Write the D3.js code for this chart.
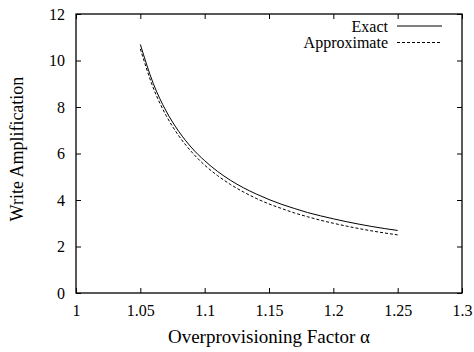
<!DOCTYPE html>
<html>
<head>
<meta charset="utf-8">
<script src="https://cdn.jsdelivr.net/npm/d3@7"></script>
<style>
  body { margin: 0; background: #fff; }
</style>
</head>
<body>
<div id="chart"></div>
<script>
// data
var alpha = [1.05, 1.06, 1.07, 1.08, 1.09, 1.10, 1.11, 1.12, 1.13, 1.14, 1.15,
             1.16, 1.17, 1.18, 1.19, 1.20, 1.21, 1.22, 1.23, 1.24, 1.25];
var exact = [10.69, 9.02, 7.83, 6.94, 6.24, 5.69, 5.23, 4.85, 4.53, 4.26, 4.02,
             3.81, 3.63, 3.46, 3.32, 3.19, 3.07, 2.96, 2.86, 2.77, 2.69];
var approx = [10.50, 8.83, 7.64, 6.75, 6.06, 5.50, 5.05, 4.67, 4.35, 4.07, 3.83,
              3.63, 3.44, 3.28, 3.13, 3.00, 2.88, 2.77, 2.67, 2.58, 2.50];
var xTicks = [1, 1.05, 1.1, 1.15, 1.2, 1.25, 1.3];
var yTicks = [0, 2, 4, 6, 8, 10, 12];

var serif = "'Liberation Serif', 'Times New Roman', serif";

var W = 474, H = 352;
var margin = {top: 14, right: 12, bottom: 59, left: 76};
var width = W - margin.left - margin.right;
var height = H - margin.top - margin.bottom;

var svg = d3.select("#chart").append("svg")
    .attr("width", W)
    .attr("height", H);

var g = svg.append("g")
    .attr("transform", "translate(" + margin.left + "," + margin.top + ")");

var x = d3.scaleLinear().domain([1, 1.3]).range([0, width]);
var y = d3.scaleLinear().domain([0, 12]).range([height, 0]);

//gnuplot style inward ticks on all four sides
var tl = 5;
g.append("g")
    .attr("transform", "translate(0," + height + ")")
    .call(d3.axisBottom(x).tickValues(xTicks).tickSizeInner(-tl).tickSizeOuter(0)
        .tickPadding(12).tickFormat(d3.format("")))
    .call(function(a) { a.select(".domain").remove(); });

g.append("g")
    .call(d3.axisTop(x).tickValues(xTicks).tickSizeInner(-tl).tickSizeOuter(0).tickFormat(""))
    .call(function(a) { a.select(".domain").remove(); });

g.append("g")
    .call(d3.axisLeft(y).tickValues(yTicks).tickSizeInner(-tl).tickSizeOuter(0)
        .tickPadding(11).tickFormat(d3.format("d")))
    .call(function(a) { a.select(".domain").remove(); });

g.append("g")
    .attr("transform", "translate(" + width + ",0)")
    .call(d3.axisRight(y).tickValues(yTicks).tickSizeInner(-tl).tickSizeOuter(0).tickFormat(""))
    .call(function(a) { a.select(".domain").remove(); });

g.selectAll(".tick line").attr("stroke", "#000").attr("stroke-width", 1);
g.selectAll(".tick text")
    .style("font-family", serif)
    .style("font-size", "16px")
    .attr("fill", "#000");

//frame
g.append("rect")
    .attr("width", width)
    .attr("height", height)
    .attr("fill", "none")
    .attr("stroke", "#000")
    .attr("stroke-width", 1.3);

//curves
var line = d3.line()
    .x(function(d) { return x(d[0]); })
    .y(function(d) { return y(d[1]); })
    .curve(d3.curveMonotoneX);

g.append("path")
    .datum(d3.zip(alpha, exact))
    .attr("d", line)
    .attr("fill", "none")
    .attr("stroke", "#000")
    .attr("stroke-width", 1);

g.append("path")
    .datum(d3.zip(alpha, approx))
    .attr("d", line)
    .attr("fill", "none")
    .attr("stroke", "#000")
    .attr("stroke-width", 1)
    .attr("stroke-dasharray", "3,2");

//legend
var legend = [{name: "Exact", dash: null}, {name: "Approximate", dash: "3,2"}];
var lg = svg.append("g").selectAll("g")
    .data(legend)
    .enter().append("g")
    .attr("transform", function(d, i) { return "translate(0," + (26 + i * 16.5) + ")"; });

lg.append("text")
    .attr("x", 388)
    .attr("dy", "0.35em")
    .attr("text-anchor", "end")
    .style("font-family", serif)
    .style("font-size", "16px")
    .text(function(d) { return d.name; });

lg.append("line")
    .attr("x1", 397).attr("x2", 442)
    .attr("stroke", "#000")
    .attr("stroke-width", 1)
    .attr("stroke-dasharray", function(d) { return d.dash; });

//axis titles
svg.append("text")
    .attr("x", 269)
    .attr("y", 343)
    .attr("text-anchor", "middle")
    .style("font-family", serif)
    .style("font-size", "19px")
    .text("Overprovisioning Factor α");

svg.append("text")
    .attr("transform", "rotate(-90)")
    .attr("x", -149)
    .attr("y", 23)
    .attr("text-anchor", "middle")
    .style("font-family", serif)
    .style("font-size", "18px")
    .text("Write Amplification");
</script>
</body>
</html>
